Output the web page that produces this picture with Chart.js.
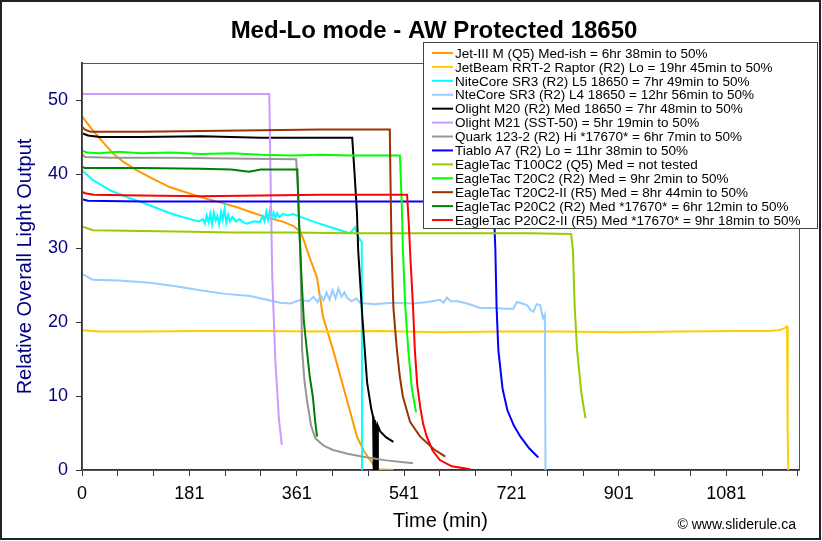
<!DOCTYPE html>
<html lang="en">
  <head>
    <meta charset="UTF-8" />
    <title>Med-Lo mode - AW Protected 18650</title>
    <script src="https://cdn.jsdelivr.net/npm/chart.js"></script>
    <style>
      html, body { margin: 0; padding: 0; background: #fff; }
    </style>
  </head>
  <body>
    <canvas id="runtimeChart" width="822" height="541"></canvas>
    <script>
      // tick labels (Excel counts from 1, so the labels are one past the real minute)
      const xTickValues = [0, 60, 120, 180, 240, 300, 360, 420, 480, 540, 600, 660, 720, 780, 840, 900, 960, 1020, 1080, 1140, 1200];
      const xTickLabels = ['0', '181', '361', '541', '721', '901', '1081'];
      const yTickValues = [0, 10, 20, 30, 40, 50];

      const seriesLabels = [
        'Jet-III M (Q5) Med-ish = 6hr 38min to 50%',
        'JetBeam RRT-2 Raptor (R2) Lo = 19hr 45min to 50%',
        'NiteCore SR3 (R2) L5 18650 = 7hr 49min to 50%',
        'NteCore SR3 (R2) L4 18650 = 12hr 56min to 50%',
        'Olight M20 (R2) Med 18650 = 7hr 48min to 50%',
        'Olight M21 (SST-50) = 5hr 19min to 50%',
        'Quark 123-2 (R2) Hi *17670* = 6hr 7min to 50%',
        'Tiablo A7 (R2) Lo = 11hr 38min to 50%',
        'EagleTac T100C2 (Q5) Med = not tested',
        'EagleTac T20C2 (R2) Med = 9hr 2min to 50%',
        'EagleTac T20C2-II (R5) Med = 8hr 44min to 50%',
        'EagleTac P20C2 (R2) Med *17670* = 6hr 12min to 50%',
        'EagleTac P20C2-II (R5) Med *17670* = 9hr 18min to 50%',
      ];
      const seriesColors = ['#FF9900', '#FFCC00', '#00FFFF', '#99CCFF', '#000000', '#CC99FF', '#969696',
        '#0000FF', '#99CC00', '#00FF00', '#993300', '#008000', '#FF0000'];

      // minutes / relative output
      const jet3mTime = [0, 18, 35, 52, 70, 92, 120, 148, 175, 198, 230, 260, 285, 310, 335, 354, 366, 372, 379, 394, 404, 421, 444, 461, 473, 483, 494, 522];
      const jet3mOut = [47.8, 45.9, 44.3, 42.8, 41.6, 40.5, 39.3, 38.2, 37.5, 36.9, 36.2, 35.5, 34.8, 34.1, 33.6, 33.0, 32.2, 31.0, 29.3, 26.0, 20.7, 16.2, 9.5, 4.5, 2.5, 1.35, 0.1, 0];

      const rrt2Time = [0, 30, 100, 200, 300, 400, 500, 600, 700, 800, 900, 1000, 1100, 1150, 1168, 1176, 1182, 1183, 1184];
      const rrt2Out = [18.9, 18.7, 18.7, 18.8, 18.8, 18.7, 18.8, 18.6, 18.7, 18.7, 18.6, 18.7, 18.8, 18.8, 18.9, 19.1, 19.4, 5, 0];

      const sr3L5Time = [0, 18, 47, 75, 103, 125, 148, 168, 186, 196, 203, 206, 209, 212, 215, 218, 221, 224, 227, 230, 233, 236, 239, 242, 245, 248, 252, 258, 264, 270, 277, 288, 298, 303, 306, 309, 312, 315, 318, 321, 324, 327, 331, 337, 345, 354, 366, 380, 394, 413, 433, 449, 458, 463, 467, 469, 469.5];
      const sr3L5Out = [40.5, 39.2, 37.8, 36.9, 36.1, 35.4, 34.7, 34.2, 33.8, 33.6, 33.9, 33.3, 34.4, 33.5, 34.6, 33.2, 34.8, 33.7, 34.3, 33.2, 34.9, 33.8, 35.3, 33.4, 34.5, 33.6, 34.2, 33.6, 33.9, 33.5, 33.3, 33.6, 33.5, 34.3, 33.6, 34.9, 33.8, 35.1, 34.0, 34.8, 34.1, 34.7, 34.2, 34.6, 34.4, 34.6, 34.2, 33.8, 33.4, 32.9, 32.4, 32.0, 32.8, 31.5, 31.0, 30.8, 0];

      const sr3L4Time = [0, 18, 60, 114, 160, 198, 240, 282, 310, 332, 350, 366, 380, 388, 395, 400, 405, 410, 415, 420, 425, 430, 435, 440, 444, 452, 460, 466, 490, 520, 555, 580, 600, 606, 612, 618, 630, 650, 667, 690, 710, 723, 729, 738, 746, 752, 757, 762, 768, 773, 776, 777];
      const sr3L4Out = [26.5, 25.7, 25.6, 25.3, 24.8, 24.3, 23.8, 23.5, 23.0, 22.6, 22.5, 23.0, 22.8, 23.4, 22.7, 23.6, 22.9, 24.0, 23.0, 24.3, 23.2, 24.5, 23.4, 24.0, 23.3, 22.8, 23.2, 22.6, 22.4, 22.6, 22.5, 22.7, 23.0, 22.6, 23.3, 22.8, 22.8, 22.4, 21.9, 21.9, 21.8, 21.8, 22.7, 22.5, 22.3, 21.6, 21.4, 22.4, 22.3, 20.5, 21.0, 0];

      const m20Time = [0, 10, 30, 100, 200, 300, 400, 453, 457, 461, 463, 470, 478, 485, 488, 489, 490, 491, 492, 493, 494, 495, 496, 500, 510, 522];
      const m20Out = [45.5, 45.2, 45.0, 45.0, 45.1, 44.9, 44.9, 44.9, 40.0, 34.7, 29.7, 20.7, 11.8, 8.2, 7.2, 0, 6.8, 0, 6.5, 0, 6.2, 0, 6.0, 5.2, 4.4, 3.8];

      const m21Time = [0, 3, 100, 200, 314, 316, 319, 324, 330, 335];
      const m21Out = [51.0, 50.8, 50.8, 50.8, 50.8, 40, 26, 15, 7, 3.4];

      const quarkTime = [0, 5, 50, 150, 250, 359, 362, 366, 369, 373, 377, 384, 391, 405, 421, 445, 471, 510, 555];
      const quarkOut = [42.7, 42.3, 42.2, 42.2, 42.1, 42.0, 38.0, 29.7, 16.2, 12.0, 9.5, 6.0, 4.3, 3.3, 2.7, 2.2, 1.8, 1.3, 0.9];

      const tiabloTime = [0, 10, 100, 300, 500, 690, 693, 695, 698, 705, 713, 724, 735, 750, 765];
      const tiabloOut = [36.6, 36.4, 36.3, 36.3, 36.3, 36.3, 29.7, 22, 16.2, 11, 8.1, 6.0, 4.5, 2.9, 1.7];

      const t100Time = [0, 18, 100, 186, 250, 350, 450, 550, 650, 750, 820, 823, 826, 830, 837, 844];
      const t100Out = [32.9, 32.4, 32.3, 32.2, 32.1, 32.1, 32.0, 32.0, 32.0, 32.0, 31.9, 29.7, 22, 16.2, 10.5, 7.0];

      const t20Time = [0, 8, 30, 60, 100, 150, 200, 250, 300, 350, 400, 450, 500, 533, 536, 538, 542, 547, 553, 560];
      const t20Out = [43.2, 42.9, 42.8, 43.0, 42.8, 42.9, 42.7, 42.8, 42.6, 42.5, 42.6, 42.5, 42.5, 42.5, 36, 29.7, 22, 16.2, 11, 7.8];

      const t20iiTime = [0, 5, 15, 100, 200, 300, 400, 516, 517, 519, 522, 525, 528, 533, 538, 550, 567, 590, 609];
      const t20iiOut = [46.4, 46.0, 45.7, 45.7, 45.8, 45.9, 46.0, 46.0, 40, 29.7, 22, 19, 16.2, 12.5, 9.9, 6.5, 4.5, 2.8, 1.8];

      const p20Time = [0, 5, 100, 200, 250, 280, 300, 330, 361, 364, 368, 372, 377, 382, 387, 391, 394];
      const p20Out = [41.0, 40.8, 40.8, 40.7, 40.6, 40.3, 40.6, 40.6, 40.6, 33, 26, 20, 16.2, 12.5, 9.9, 6.5, 4.5];

      const p20iiTime = [0, 5, 20, 100, 200, 300, 400, 500, 545, 548, 551, 555, 558, 562, 567, 572, 578, 588, 600, 620, 651];
      const p20iiOut = [37.6, 37.4, 37.2, 37.1, 37.0, 37.1, 37.2, 37.2, 37.2, 33, 28, 22, 16.2, 11.5, 8.5, 6.2, 4.5, 2.6, 1.35, 0.5, 0.1];

      const seriesTimes = [jet3mTime, rrt2Time, sr3L5Time, sr3L4Time, m20Time, m21Time, quarkTime, tiabloTime, t100Time, t20Time, t20iiTime, p20Time, p20iiTime];
      const seriesOutputs = [jet3mOut, rrt2Out, sr3L5Out, sr3L4Out, m20Out, m21Out, quarkOut, tiabloOut, t100Out, t20Out, t20iiOut, p20Out, p20iiOut];

      const FONT = '"Liberation Sans", Arial, sans-serif';

      const datasets = seriesLabels.map((label, i) => ({
        label: label,
        data: seriesTimes[i].map((t, j) => ({ x: t, y: seriesOutputs[i][j] })),
        borderColor: seriesColors[i],
        backgroundColor: seriesColors[i],
        borderWidth: 2,
        pointRadius: 0,
        showLine: true,
        fill: false,
        tension: 0,
        // excel draws the later series on top
        order: seriesLabels.length - i,
      }));

      const frameAndText = {
        id: 'frameAndText',
        beforeDraw: (chart) => {
          const ctx = chart.ctx;
          ctx.save();
          ctx.fillStyle = '#fff';
          ctx.fillRect(0, 0, chart.width, chart.height);
          ctx.restore();
        },
        afterDatasetsDraw: (chart) => {
          const { ctx, chartArea: a } = chart;
          ctx.save();
          ctx.strokeStyle = '#555';
          ctx.lineWidth = 1;
          ctx.strokeRect(a.left + 0.5, a.top + 0.5, a.right - a.left, a.bottom - a.top);
          ctx.restore();
        },
        afterDraw: (chart) => {
          const ctx = chart.ctx;
          ctx.save();
          // outer frame
          ctx.strokeStyle = '#222';
          ctx.lineWidth = 2;
          ctx.strokeRect(1, 1, chart.width - 3, chart.height - 3);

          // title
          ctx.fillStyle = '#000';
          ctx.font = 'bold 24px ' + FONT;
          ctx.textAlign = 'center';
          ctx.textBaseline = 'alphabetic';
          ctx.fillText('Med-Lo mode - AW Protected 18650', 434, 38);

          // credit
          ctx.font = '14px ' + FONT;
          ctx.textAlign = 'right';
          ctx.fillText('\u00A9 www.sliderule.ca', 796, 529);

          // legend box
          const lx = 423, ly = 42, lw = 394, lh = 186;
          ctx.fillStyle = '#fff';
          ctx.fillRect(lx, ly, lw, lh);
          ctx.strokeStyle = '#444';
          ctx.lineWidth = 1;
          ctx.strokeRect(lx + 0.5, ly + 0.5, lw, lh);
          ctx.font = '13.5px ' + FONT;
          ctx.textAlign = 'left';
          ctx.textBaseline = 'middle';
          chart.data.datasets.forEach((ds, i) => {
            const y = 53 + i * 13.92;
            ctx.strokeStyle = ds.borderColor;
            ctx.lineWidth = 2;
            ctx.beginPath();
            ctx.moveTo(432, y);
            ctx.lineTo(453, y);
            ctx.stroke();
            ctx.fillStyle = '#000';
            ctx.fillText(ds.label, 455, y + 1);
          });
          ctx.restore();
        },
      };

      const runtimeChart = new Chart(document.getElementById('runtimeChart'), {
        type: 'scatter',
        data: { datasets: datasets },
        options: {
          responsive: false,
          animation: false,
          events: [],
          layout: { padding: { top: 63, right: 23, left: 0, bottom: 0 } },
          plugins: {
            legend: { display: false },
            title: { display: false },
            tooltip: { enabled: false },
          },
          scales: {
            x: {
              type: 'linear',
              min: 0,
              max: 1202,
              afterBuildTicks: (scale) => {
                scale.ticks = xTickValues.map((v) => ({ value: v }));
              },
              afterFit: (scale) => {
                scale.height = 71;
              },
              ticks: {
                autoSkip: false,
                maxRotation: 0,
                minRotation: 0,
                padding: 7,
                color: '#000',
                font: { family: FONT, size: 18 },
                callback: (v) => (v % 180 === 0 ? xTickLabels[v / 180] : ''),
              },
              grid: { drawOnChartArea: false, drawTicks: true, tickLength: 6, tickColor: '#333', tickWidth: 1 },
              border: { display: true, color: '#333', width: 2 },
              title: {
                display: true,
                text: 'Time (min)',
                color: '#000',
                font: { family: FONT, size: 20 },
                padding: { top: 0, bottom: 8 },
              },
            },
            y: {
              min: 0,
              max: 55,
              afterBuildTicks: (scale) => {
                scale.ticks = yTickValues.map((v) => ({ value: v }));
              },
              afterFit: (scale) => {
                scale.width = 82;
              },
              ticks: {
                padding: 8,
                color: '#000080',
                font: { family: FONT, size: 18 },
              },
              grid: { drawOnChartArea: false, drawTicks: true, tickLength: 6, tickColor: '#333', tickWidth: 1 },
              border: { display: true, color: '#333', width: 2 },
              title: {
                display: true,
                text: 'Relative Overall Light Output',
                color: '#000080',
                font: { family: FONT, size: 20 },
                padding: { top: 13, bottom: 0 },
              },
            },
          },
        },
        plugins: [frameAndText],
      });
    </script>
  </body>
</html>
